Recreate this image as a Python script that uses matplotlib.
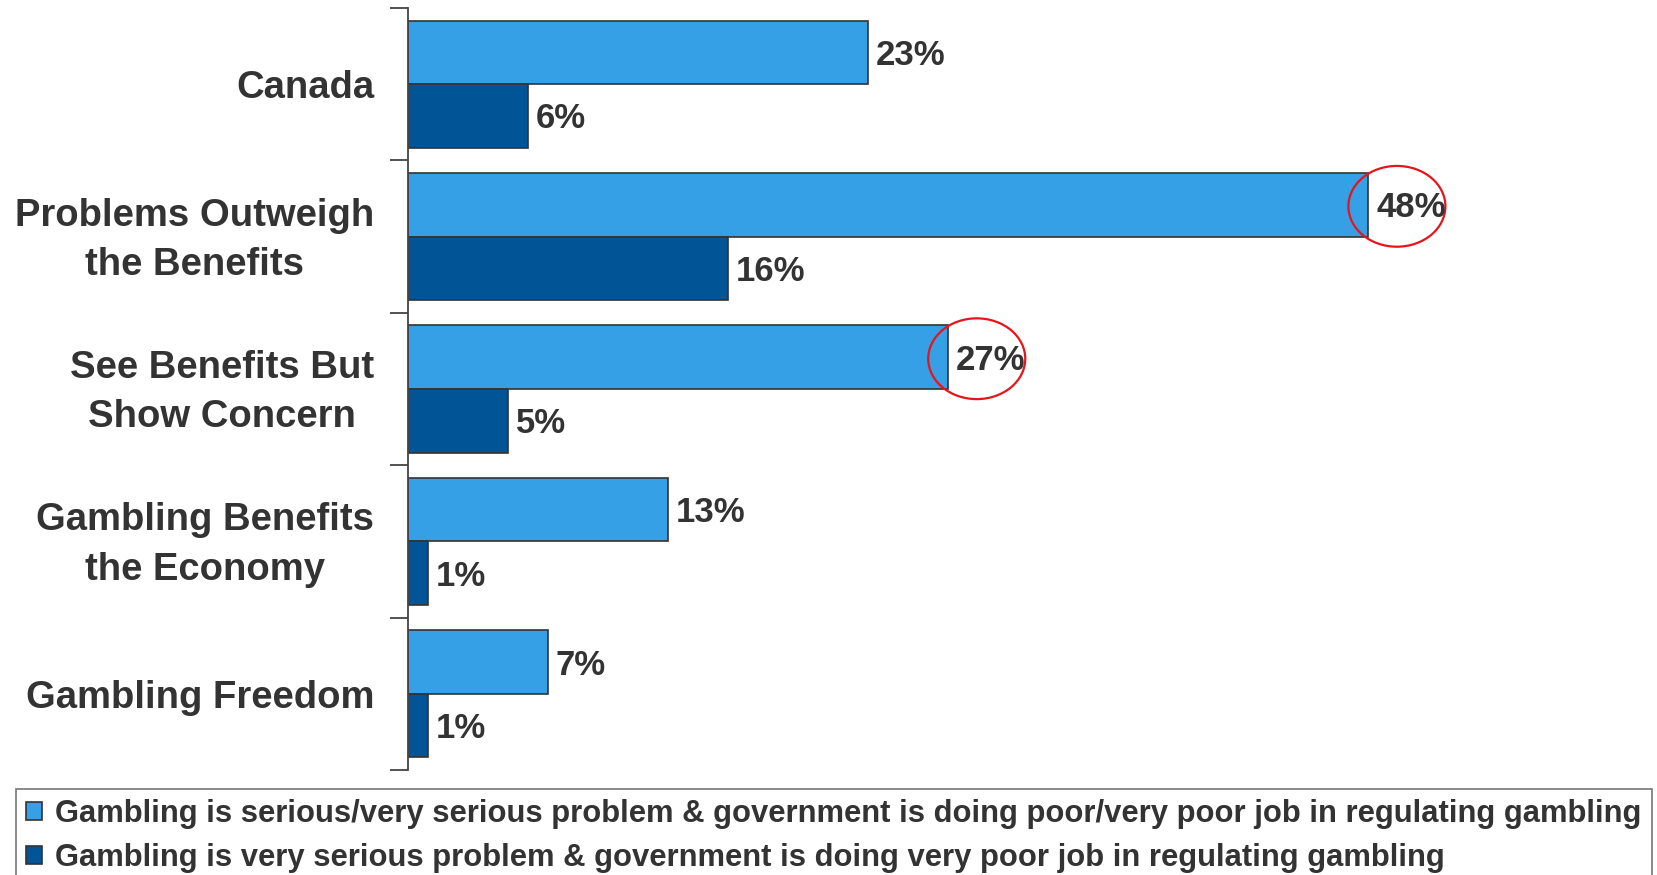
import numpy as np
import matplotlib.pyplot as plt
from matplotlib.patches import Ellipse
from matplotlib.transforms import ScaledTranslation

plt.rcParams["font.family"] = ["Liberation Sans", "DejaVu Sans"]
plt.rcParams["font.weight"] = "bold"

categories = [
    "Canada",
    "Problems Outweigh\nthe Benefits",
    "See Benefits But\nShow Concern",
    "Gambling Benefits\nthe Economy",
    "Gambling Freedom",
]
serious_poor = [23, 48, 27, 13, 7]
very_serious_very_poor = [6, 16, 5, 1, 1]
series_labels = [
    "Gambling is serious/very serious problem & government is doing poor/very poor job in regulating gambling",
    "Gambling is very serious problem & government is doing very poor job in regulating gambling",
]
highlighted = [1, 2]  # categories whose top value gets circled

LIGHT = "#36a0e6"
DARK = "#015597"
TEXT = "#333333"
EDGE = "#333333"

fig = plt.figure(figsize=(16.58, 8.75), dpi=100)
ax = fig.add_axes([0.2458, 0.12, 0.7542, 0.8709])

y = np.arange(len(categories))
h = 0.417
b1 = ax.barh(y - h / 2, serious_poor, height=h, color=LIGHT,
             edgecolor=EDGE, linewidth=1.2, label=series_labels[0])
b2 = ax.barh(y + h / 2, very_serious_very_poor, height=h, color=DARK,
             edgecolor=EDGE, linewidth=1.2, label=series_labels[1])

# value labels, baseline placed so the digits sit centred on the bar
for bars, vals in [(b1, serious_poor), (b2, very_serious_very_poor)]:
    for bar, v in zip(bars, vals):
        ax.annotate(f"{v}%", (v, bar.get_y() + bar.get_height() / 2),
                    xytext=(6, -9), textcoords="offset points",
                    va="baseline", ha="left", fontsize=25, color=TEXT,
                    fontweight="bold")

for i in highlighted:
    ax.add_patch(Ellipse((serious_poor[i] + 1.45, y[i] - h / 2 + 0.01),
                         width=4.85, height=0.53, fill=False,
                         edgecolor="#e8141b", linewidth=1.6, clip_on=False))

ax.set_xlim(0, 62.5)
ax.set_ylim(len(categories) - 0.5, -0.5)

# group separators as outward ticks, category names on minor ticks
ax.set_yticks(np.arange(len(categories) + 1) - 0.5)
ax.set_yticklabels([])
ax.set_yticks(y, minor=True)
ax.set_yticklabels(categories, minor=True, fontsize=27.5, color=TEXT,
                   fontweight="bold", multialignment="center",
                   linespacing=1.48)
ax.tick_params(axis="y", which="major", direction="out", length=13,
               width=1.3, color="#444444")
ax.tick_params(axis="y", which="minor", length=0, pad=24)
ax.set_xticks([])

# two-line names sit a little low when centred on their box; nudge them up
nudge = ScaledTranslation(0, 7 / 100, fig.dpi_scale_trans)
for lbl in ax.get_yticklabels(minor=True):
    if "\n" in lbl.get_text():
        lbl.set_transform(lbl.get_transform() + nudge)

for side in ["top", "right", "bottom"]:
    ax.spines[side].set_visible(False)
ax.spines["left"].set_color("#444444")
ax.spines["left"].set_linewidth(1.3)

leg = fig.legend(handles=[b1, b2], loc="upper left",
                 bbox_to_anchor=(16 / 1658, 1 - 789 / 875), ncol=1,
                 fontsize=22.3, frameon=True, fancybox=False,
                 edgecolor="#555555", handlelength=0.52, handleheight=0.52,
                 handletextpad=0.42, labelspacing=0.45, borderpad=0.33,
                 borderaxespad=0, labelcolor=TEXT)
leg.get_frame().set_linewidth(1.2)
for t in leg.get_texts():
    t.set_fontweight("bold")

fig.savefig("out.png", dpi=100)
